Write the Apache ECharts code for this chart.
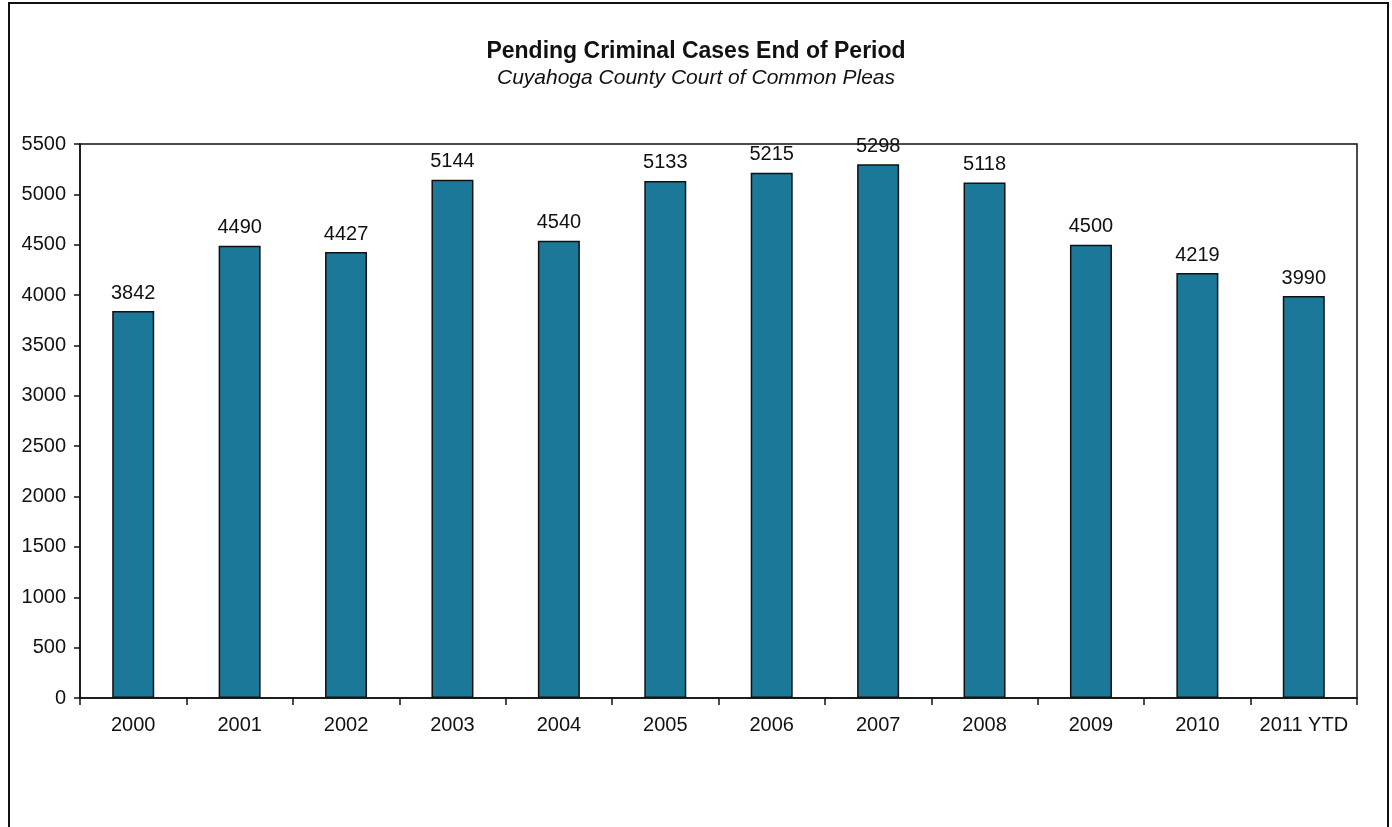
<!DOCTYPE html>
<html>
<head>
<meta charset="utf-8">
<script src="https://cdn.jsdelivr.net/npm/echarts@6/dist/echarts.min.js"></script>
<style>
  html, body { margin: 0; padding: 0; background: #fff; }
  #main { width: 1392px; height: 827px; }
</style>
</head>
<body>
<div id="main"></div>
<script>
// pending cases at the end of each period
var years = ['2000', '2001', '2002', '2003', '2004', '2005', '2006', '2007', '2008', '2009', '2010', '2011 YTD'];
var pending = [3842, 4490, 4427, 5144, 4540, 5133, 5215, 5298, 5118, 4500, 4219, 3990];

var myChart = echarts.init(document.getElementById('main'));
var font = 'Liberation Sans, Arial, sans-serif';

var option = {
    backgroundColor: '#fff',
    animation: false,
    title: {
        text: 'Pending Criminal Cases End of Period',
        subtext: 'Cuyahoga County Court of Common Pleas',
        left: 'center',
        top: 35,
        itemGap: 5,
        textStyle: { fontFamily: font, fontSize: 23, fontWeight: 'bold', color: '#111' },
        subtextStyle: { fontFamily: font, fontSize: 21, fontStyle: 'italic', color: '#111' }
    },
    graphic: [{
        type: 'rect',
        shape: { x: 9, y: 3, width: 1379, height: 840 },
        style: { fill: 'none', stroke: '#111', lineWidth: 2 },
        silent: true
    }, {
        type: 'rect',
        shape: { x: 80, y: 144, width: 1277, height: 554 },
        style: { fill: 'none', stroke: '#111', lineWidth: 1.5 },
        silent: true,
        z: 10
    }],
    grid: { left: 80, right: 35, top: 144, bottom: 129 },
    xAxis: {
        type: 'category',
        data: years,
        boundaryGap: true,
        axisLine: { lineStyle: { color: '#111', width: 1.5 } },
        axisTick: { show: true, length: 7, alignWithLabel: false, lineStyle: { color: '#111', width: 1.5 } },
        axisLabel: { margin: 17, fontFamily: font, fontSize: 20, color: '#111', interval: 0 }
    },
    yAxis: {
        type: 'value',
        min: 0,
        max: 5500,
        interval: 500,
        splitLine: { show: false },
        axisLine: { show: true, lineStyle: { color: '#111', width: 1.5 } },
        axisTick: { show: true, length: 6, lineStyle: { color: '#111', width: 1.5 } },
        axisLabel: {
            margin: 14,
            fontFamily: font,
            fontSize: 20,
            color: '#111',
            formatter: function (v) { return String(v); }
        }
    },
    series: [{
        type: 'bar',
        data: pending,
        barWidth: 42,
        itemStyle: { color: '#1b7899', borderColor: '#111', borderWidth: 1.5 },
        label: {
            show: true,
            position: 'top',
            distance: 8,
            fontFamily: font,
            fontSize: 20,
            color: '#111'
        }
    }]
};

myChart.setOption(option);
</script>
</body>
</html>
